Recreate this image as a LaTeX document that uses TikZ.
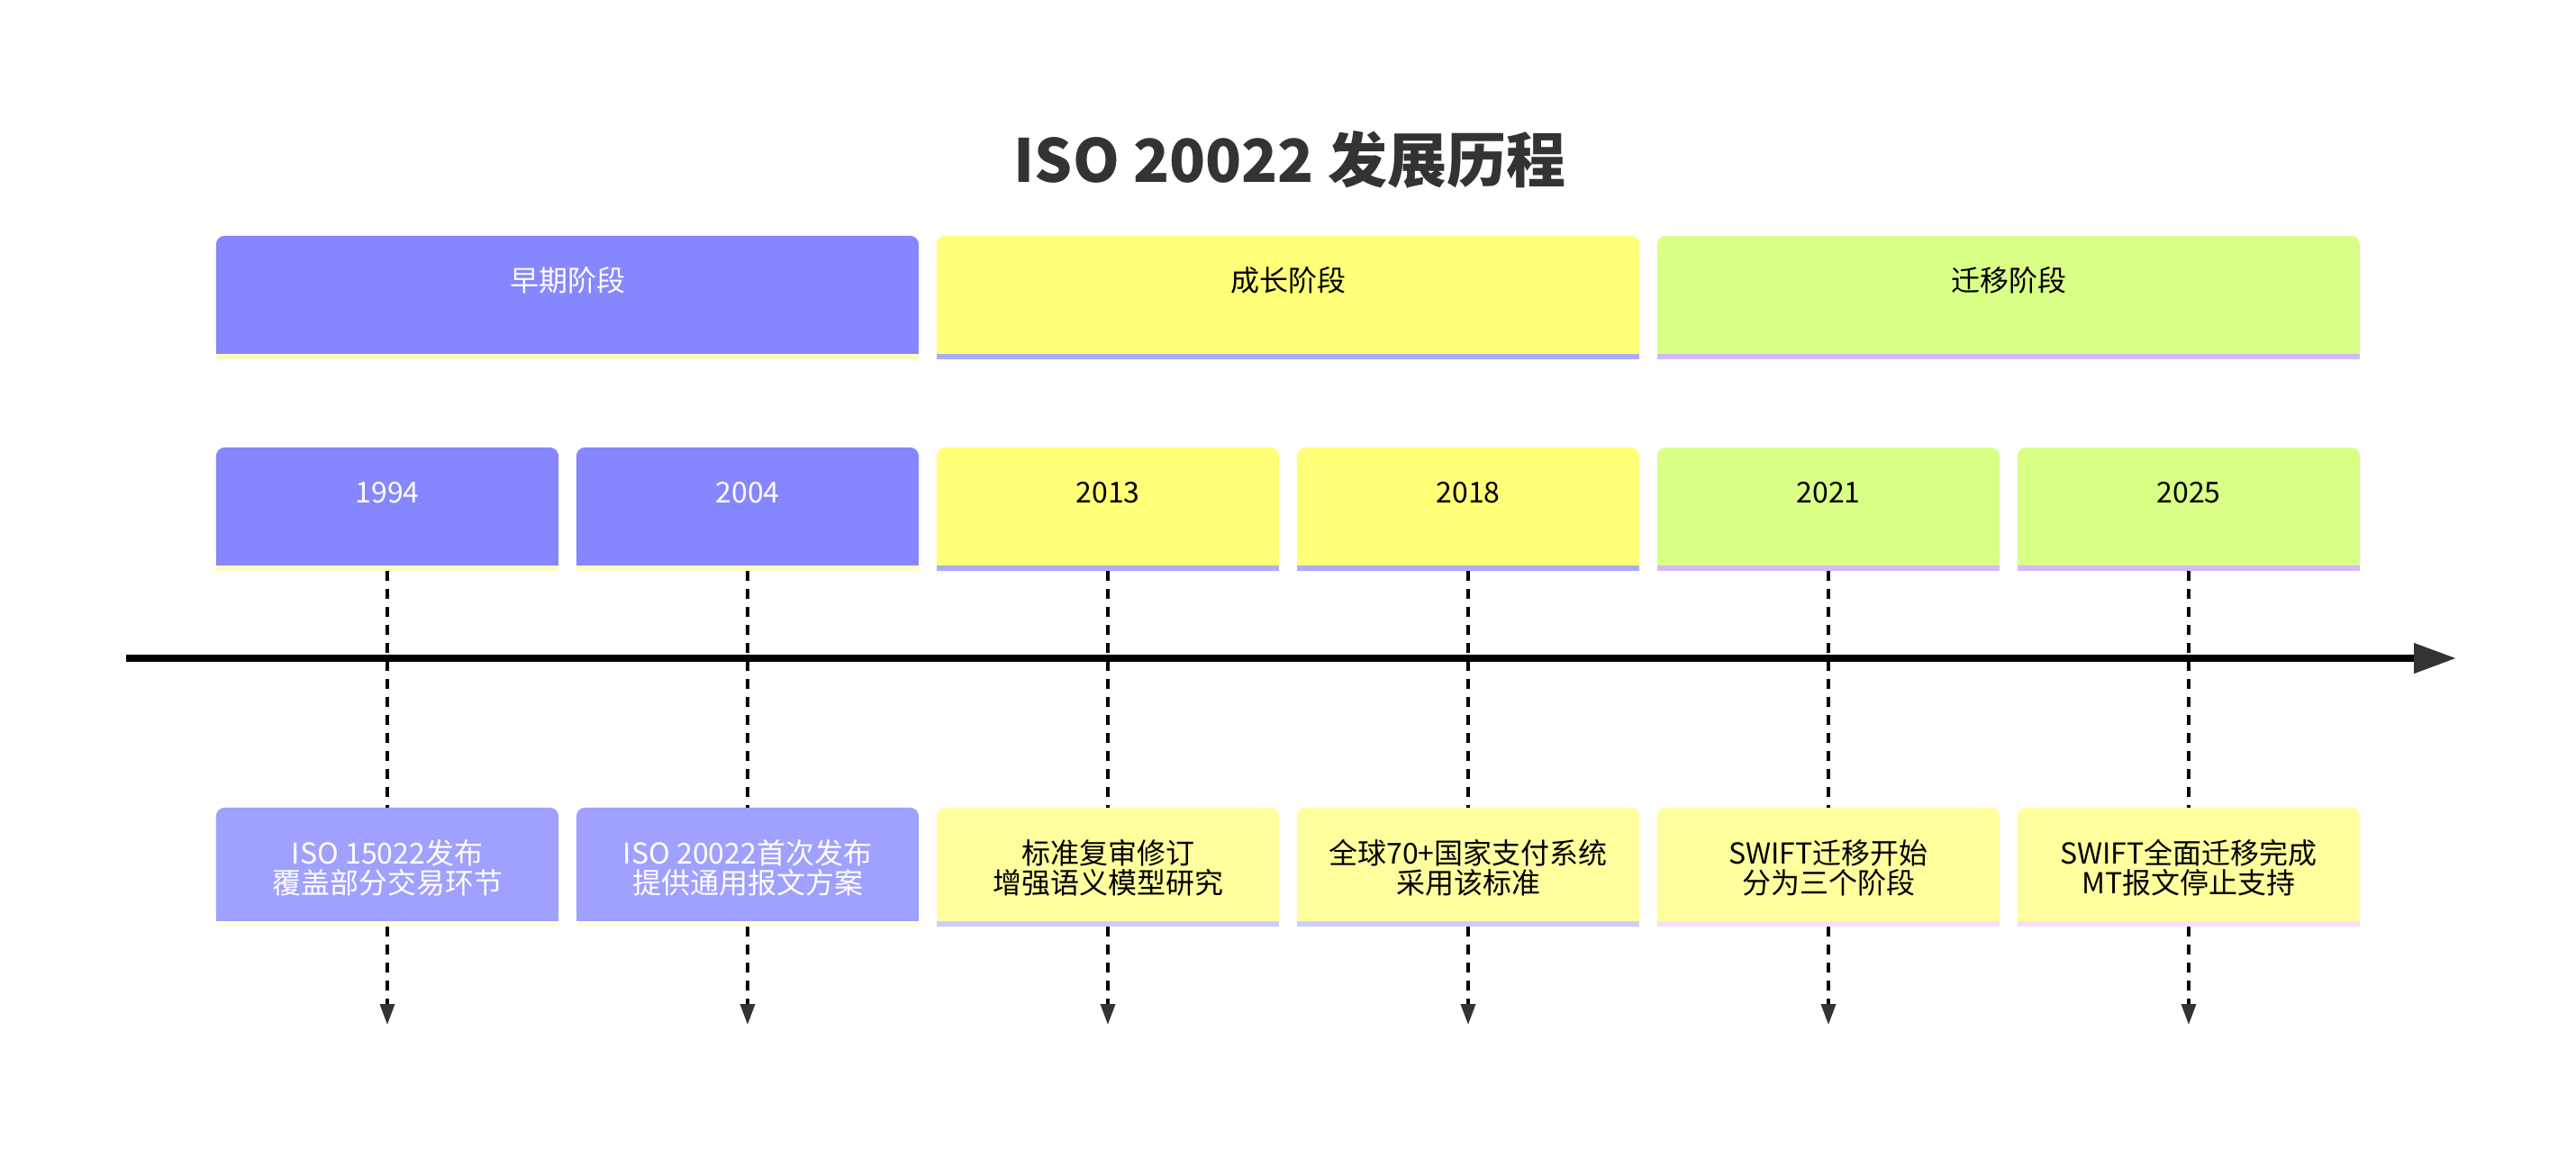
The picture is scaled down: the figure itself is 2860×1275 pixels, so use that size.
\documentclass[tikz,border=0pt]{standalone}
\usepackage{fontspec}
\setmainfont{Noto Sans CJK SC}
\usetikzlibrary{arrows.meta,backgrounds}
\definecolor{cA}{HTML}{8686FF}
\definecolor{cAs}{HTML}{FFFFBD}
\definecolor{cAe}{HTML}{A0A0FF}
\definecolor{cAes}{HTML}{FFFFDE}
\definecolor{cB}{HTML}{FFFF78}
\definecolor{cBs}{HTML}{ACACFF}
\definecolor{cBe}{HTML}{FFFF9E}
\definecolor{cBes}{HTML}{CDCDFF}
\definecolor{cC}{HTML}{D9FF86}
\definecolor{cCs}{HTML}{D3BAFC}
\definecolor{cCe}{HTML}{FFFF9E}
\definecolor{cCes}{HTML}{F6DEFF}
\definecolor{tdark}{HTML}{333333}
\newcommand\boxbg[3]{%
  \fill[#2, rounded corners=10pt] (#1.north west) rectangle ([yshift=6pt]#1.south east);
  \fill[#2] ([yshift=24pt]#1.south west) rectangle ([yshift=6pt]#1.south east);
  \fill[#3] ([yshift=6pt]#1.south west) rectangle (#1.south east);
}
\begin{document}
\begin{tikzpicture}[x=1pt,y=-1pt,
  secbox/.style={rectangle, inner sep=0pt, minimum width=780pt, minimum height=137pt},
  yearbox/.style={rectangle, inner sep=0pt, minimum width=380pt, minimum height=137pt},
  evbox/.style={rectangle, inner sep=0pt, minimum width=380pt, minimum height=132pt},
  lbl/.style={inner sep=0pt, font=\fontsize{32pt}{33pt}\selectfont, align=center},
  conn/.style={draw=black, line width=3.5pt, dash pattern=on 11pt off 9pt},
  tip/.style={-{Triangle[length=23pt,width=16pt,color=tdark]}}
]
\useasboundingbox (0,0) rectangle (2860,1275);

% title
\node[inner sep=0pt, text=tdark, font=\fontsize{66pt}{70pt}\selectfont\bfseries] (title) at (1432,177) {ISO 20022 发展历程};

% sections
\node[secbox] (s1) at (630,330.5) {};
\node[secbox] (s2) at (1430,330.5) {};
\node[secbox] (s3) at (2230,330.5) {};
% years
\node[yearbox] (y1) at (430,565.5) {};
\node[yearbox] (y2) at (830,565.5) {};
\node[yearbox] (y3) at (1230,565.5) {};
\node[yearbox] (y4) at (1630,565.5) {};
\node[yearbox] (y5) at (2030,565.5) {};
\node[yearbox] (y6) at (2430,565.5) {};
% events
\node[evbox] (e1) at (430,963) {};
\node[evbox] (e2) at (830,963) {};
\node[evbox] (e3) at (1230,963) {};
\node[evbox] (e4) at (1630,963) {};
\node[evbox] (e5) at (2030,963) {};
\node[evbox] (e6) at (2430,963) {};

\begin{pgfonlayer}{background}
\boxbg{s1}{cA}{cAs}
\boxbg{s2}{cB}{cBs}
\boxbg{s3}{cC}{cCs}
\boxbg{y1}{cA}{cAs}
\boxbg{y2}{cA}{cAs}
\boxbg{y3}{cB}{cBs}
\boxbg{y4}{cB}{cBs}
\boxbg{y5}{cC}{cCs}
\boxbg{y6}{cC}{cCs}
\boxbg{e1}{cAe}{cAes}
\boxbg{e2}{cAe}{cAes}
\boxbg{e3}{cBe}{cBes}
\boxbg{e4}{cBe}{cBes}
\boxbg{e5}{cCe}{cCes}
\boxbg{e6}{cCe}{cCes}
\end{pgfonlayer}

% section labels
\node[lbl, text=white] (s1t) at (630,311) {早期阶段};
\node[lbl, text=black] (s2t) at (1430,311) {成长阶段};
\node[lbl, text=black] (s3t) at (2230,311) {迁移阶段};
% year labels
\node[lbl, text=white] (y1t) at (430,547) {1994};
\node[lbl, text=white] (y2t) at (830,547) {2004};
\node[lbl, text=black] (y3t) at (1230,547) {2013};
\node[lbl, text=black] (y4t) at (1630,547) {2018};
\node[lbl, text=black] (y5t) at (2030,547) {2021};
\node[lbl, text=black] (y6t) at (2430,547) {2025};
% event labels
\node[lbl, text=white] (e1t) at (430,964) {ISO 15022发布\\覆盖部分交易环节};
\node[lbl, text=white] (e2t) at (830,964) {ISO 20022首次发布\\提供通用报文方案};
\node[lbl, text=black] (e3t) at (1230,964) {标准复审修订\\增强语义模型研究};
\node[lbl, text=black] (e4t) at (1630,964) {全球70+国家支付系统\\采用该标准};
\node[lbl, text=black] (e5t) at (2030,964) {SWIFT迁移开始\\分为三个阶段};
\node[lbl, text=black] (e6t) at (2430,964) {SWIFT全面迁移完成\\MT报文停止支持};

% end coordinates
\coordinate (d1) at (430,1138);
\coordinate (d2) at (830,1138);
\coordinate (d3) at (1230,1138);
\coordinate (d4) at (1630,1138);
\coordinate (d5) at (2030,1138);
\coordinate (d6) at (2430,1138);
\coordinate (axs) at (140,731);
\coordinate (axe) at (2727,731);

% connectors
\foreach \i in {1,...,6}{
  \draw[conn] (y\i.south) -- (e\i.north);
  \draw[conn, tip] (e\i.south) -- (d\i);
}
% axis
\draw[line width=7.5pt, black, -{Triangle[length=47pt,width=32pt,color=tdark]}] (axs) -- (axe);
\end{tikzpicture}
\end{document}
